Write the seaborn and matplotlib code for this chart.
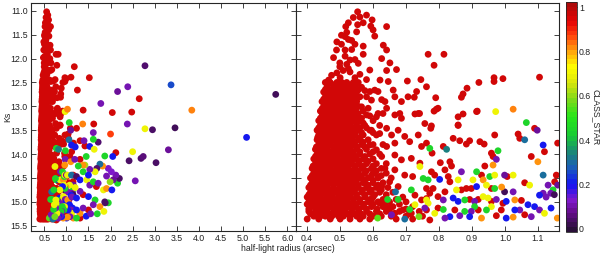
import numpy as np
import pandas as pd
import matplotlib
matplotlib.use("Agg")
import matplotlib.pyplot as plt
from matplotlib.colors import LinearSegmentedColormap, Normalize
from matplotlib.cm import ScalarMappable
import seaborn as sns

# --- data -----------------------------------------------------------------
# isolated red sources (CLASS_STAR ~ 1)
red_radius = [0.553, 0.580, 0.540, 0.560, 0.525, 0.553, 0.570, 0.597, 0.593, 0.641,
              0.517, 0.550, 0.600, 0.504, 0.515, 0.525, 0.605, 0.504, 0.489, 0.515,
              0.535, 0.570, 0.631, 0.641, 0.570, 0.626, 0.651, 0.499, 0.530, 0.545,
              0.499, 0.509, 0.525, 0.474, 0.590, 0.641, 0.671, 0.767, 0.815, 0.785,
              0.704, 0.745, 0.580, 0.621, 0.646, 0.605, 0.575, 0.590, 0.615, 0.661,
              0.666, 0.686, 0.706, 0.725, 0.732, 0.636, 0.595, 0.626, 0.585, 0.641,
              0.681, 0.737, 0.615, 0.565, 0.762, 0.790, 1.105, 0.967, 0.967, 0.994,
              0.921, 0.885, 0.873, 0.868, 0.797, 0.792, 0.785, 0.916, 0.873, 0.858,
              0.777, 0.858, 0.741, 0.520, 0.535, 0.490, 0.545, 0.515, 0.480, 0.555,
              0.520, 0.490, 0.530, 0.545, 0.500, 0.560, 0.465,
              0.580, 0.610, 0.630, 0.666, 0.686, 0.727, 0.757, 0.595, 0.620, 0.641,
              0.656, 0.676, 0.696, 0.711, 0.737, 0.747, 0.666, 0.641, 0.610, 0.590,
              0.626, 0.666, 0.686, 0.716, 0.742, 0.600, 0.636, 0.666, 0.696, 0.720,
              0.615, 0.650, 0.676, 0.626, 0.590, 0.595, 0.620, 0.646, 0.666, 0.690,
              0.716, 0.762, 0.747, 0.727, 0.762,
              0.914, 0.858, 0.775, 0.843, 0.863, 0.883, 0.893, 0.924, 0.937, 0.969,
              1.040, 1.045, 1.090, 1.120, 1.160, 0.762, 0.779, 0.813, 0.959, 0.964,
              0.939, 0.804, 0.833, 0.838, 0.818, 0.777, 0.787, 0.828, 0.833, 0.883,
              0.929, 1.007, 1.060, 1.080, 1.151, 1.156, 0.959, 0.898, 0.868, 0.818,
              0.782, 0.772, 0.762, 0.797, 0.893, 0.919, 0.959, 0.994, 1.050, 1.060,
              0.989, 0.974, 0.919, 0.848, 0.797, 0.772,
              2.65, 2.04, 2.48, 1.38, 1.18, 1.52, 1.25, 1.62, 1.42, 2.12,
              1.31, 1.68, 1.38, 1.50, 1.31, 1.23, 1.31]
red_ks = [11.02, 11.09, 11.14, 11.13, 11.25, 11.29, 11.25, 11.19, 11.32, 11.33,
          11.33, 11.44, 11.40, 11.51, 11.54, 11.60, 11.53, 11.70, 11.82, 11.82,
          11.81, 11.74, 11.72, 11.82, 11.91, 12.00, 12.09, 12.09, 12.03, 12.02,
          12.17, 12.25, 12.21, 12.35, 12.24, 12.25, 12.23, 11.91, 11.91, 12.14,
          12.47, 12.44, 12.44, 12.45, 12.48, 12.66, 12.67, 12.69, 12.69, 12.66,
          12.80, 12.90, 12.80, 12.81, 12.69, 12.90, 12.87, 12.86, 13.04, 13.04,
          13.15, 13.15, 13.15, 13.01, 12.59, 12.82, 12.39, 12.40, 12.48, 12.42,
          12.50, 12.62, 12.74, 12.81, 13.04, 13.06, 13.10, 13.10, 13.16, 13.22,
          13.41, 13.40, 13.15, 11.45, 11.62, 11.65, 11.70, 11.95, 11.98, 12.10,
          12.12, 12.30, 12.28, 12.40, 12.40, 12.33, 12.45,
          13.18, 13.22, 13.15, 13.18, 13.25, 13.16, 13.36, 13.50, 13.57, 13.46,
          13.60, 13.50, 13.63, 13.74, 13.60, 13.84, 13.77, 13.84, 13.91, 13.81,
          14.05, 14.02, 14.12, 14.09, 14.19, 14.26, 14.30, 14.33, 14.44, 14.47,
          14.47, 14.58, 14.68, 14.68, 14.75, 14.96, 15.03, 15.13, 15.24, 15.17,
          15.24, 15.17, 14.96, 14.86, 14.72,
          13.11, 13.39, 13.46, 13.67, 13.72, 13.79, 13.72, 13.74, 13.79, 13.60,
          13.58, 13.67, 13.46, 13.95, 13.77, 13.77, 13.98, 13.84, 13.98, 14.05,
          14.25, 14.18, 14.16, 14.25, 14.33, 14.37, 14.44, 14.47, 14.58, 14.72,
          14.44, 14.47, 14.60, 14.05, 14.58, 14.44, 14.72, 14.72, 14.75, 14.79,
          14.72, 14.82, 14.93, 14.89, 14.95, 14.95, 14.99, 15.03, 14.97, 15.27,
          15.17, 15.29, 15.17, 15.17, 15.13, 15.38,
          12.84, 13.13, 13.12, 13.08, 12.17, 12.40, 12.66, 13.37, 13.83, 13.97,
          14.11, 14.68, 14.85, 15.17, 13.72, 13.46, 15.34]
red_class = 0.97

# dense stellar locus: Ks levels and the radii of the sources at each level
locus_ks = [12.5, 12.6, 12.7, 12.8, 12.9, 13.0, 13.1, 13.2, 13.3, 13.4, 13.5, 13.6,
            13.7, 13.8, 13.9, 14.0, 14.1, 14.2, 14.3, 14.4, 14.5, 14.6, 14.7, 14.8,
            14.9, 15.0, 15.1, 15.2, 15.3, 15.36,
            12.55, 12.65, 12.75, 12.85, 12.95, 13.05, 13.15, 13.25, 13.35, 13.45,
            13.55, 13.65, 13.75, 13.85, 13.95, 14.05, 14.15, 14.25, 14.35, 14.45,
            14.55, 14.65, 14.75, 14.85, 14.95, 15.05, 15.15, 15.25]
locus_radius = [
    [0.455, 0.47, 0.49, 0.505, 0.52, 0.54, 0.555],
    [0.46, 0.48, 0.495, 0.51, 0.53, 0.545, 0.565],
    [0.45, 0.465, 0.485, 0.50, 0.52, 0.535, 0.55],
    [0.455, 0.475, 0.49, 0.51, 0.525, 0.54, 0.56, 0.58],
    [0.445, 0.46, 0.48, 0.50, 0.515, 0.53, 0.55],
    [0.45, 0.47, 0.485, 0.505, 0.52, 0.54, 0.555],
    [0.44, 0.46, 0.475, 0.495, 0.51, 0.525, 0.545, 0.57],
    [0.445, 0.465, 0.48, 0.50, 0.515, 0.535, 0.55, 0.59],
    [0.435, 0.45, 0.47, 0.49, 0.505, 0.525, 0.54, 0.56, 0.60],
    [0.44, 0.455, 0.475, 0.495, 0.51, 0.53, 0.55, 0.575, 0.62],
    [0.43, 0.45, 0.465, 0.485, 0.50, 0.52, 0.535, 0.555, 0.59],
    [0.435, 0.455, 0.47, 0.49, 0.505, 0.525, 0.545, 0.57, 0.61],
    [0.43, 0.445, 0.465, 0.48, 0.50, 0.515, 0.535, 0.555, 0.585],
    [0.435, 0.45, 0.47, 0.49, 0.505, 0.52, 0.54, 0.565, 0.60, 0.63],
    [0.425, 0.445, 0.46, 0.48, 0.495, 0.515, 0.53, 0.55, 0.58],
    [0.43, 0.45, 0.465, 0.485, 0.50, 0.52, 0.54, 0.56, 0.59, 0.62],
    [0.42, 0.44, 0.455, 0.475, 0.49, 0.51, 0.525, 0.545, 0.57, 0.60],
    [0.425, 0.445, 0.46, 0.48, 0.50, 0.515, 0.535, 0.555, 0.58, 0.61, 0.64],
    [0.415, 0.435, 0.45, 0.47, 0.49, 0.505, 0.525, 0.545, 0.565, 0.595, 0.625],
    [0.42, 0.44, 0.46, 0.475, 0.495, 0.51, 0.53, 0.55, 0.575, 0.60, 0.64],
    [0.41, 0.43, 0.45, 0.465, 0.485, 0.50, 0.52, 0.54, 0.56, 0.585, 0.615, 0.655],
    [0.415, 0.435, 0.455, 0.47, 0.49, 0.51, 0.525, 0.545, 0.57, 0.60, 0.63],
    [0.405, 0.425, 0.445, 0.46, 0.48, 0.50, 0.515, 0.535, 0.555, 0.58, 0.61, 0.645],
    [0.41, 0.43, 0.45, 0.47, 0.485, 0.505, 0.52, 0.54, 0.565, 0.59, 0.62, 0.66],
    [0.40, 0.42, 0.44, 0.46, 0.475, 0.495, 0.51, 0.53, 0.55, 0.575, 0.60, 0.69],
    [0.405, 0.425, 0.445, 0.465, 0.48, 0.50, 0.52, 0.54, 0.56, 0.585, 0.615, 0.65, 0.70],
    [0.41, 0.43, 0.45, 0.47, 0.49, 0.505, 0.525, 0.545, 0.57, 0.595, 0.63, 0.66, 0.72],
    [0.405, 0.425, 0.44, 0.46, 0.48, 0.50, 0.515, 0.535, 0.555, 0.58, 0.61, 0.64, 0.68, 0.74],
    [0.42, 0.44, 0.455, 0.475, 0.495, 0.51, 0.53, 0.55, 0.57, 0.60, 0.625, 0.655, 0.70, 0.75],
    [0.40, 0.435, 0.47, 0.50, 0.53, 0.56, 0.59, 0.67, 0.72],
    [0.462, 0.48, 0.498, 0.515, 0.532, 0.548],
    [0.455, 0.472, 0.49, 0.505, 0.522, 0.54, 0.556],
    [0.46, 0.478, 0.495, 0.512, 0.53, 0.545],
    [0.45, 0.468, 0.485, 0.50, 0.518, 0.535, 0.55],
    [0.455, 0.472, 0.49, 0.508, 0.525, 0.54],
    [0.445, 0.462, 0.478, 0.495, 0.512, 0.53, 0.548],
    [0.45, 0.468, 0.485, 0.502, 0.52, 0.538, 0.555],
    [0.44, 0.458, 0.475, 0.492, 0.51, 0.528, 0.545, 0.565],
    [0.445, 0.462, 0.48, 0.498, 0.515, 0.532, 0.55, 0.57],
    [0.435, 0.452, 0.47, 0.488, 0.505, 0.522, 0.54, 0.56, 0.58],
    [0.44, 0.458, 0.475, 0.495, 0.512, 0.528, 0.545, 0.565, 0.60],
    [0.432, 0.45, 0.468, 0.485, 0.502, 0.52, 0.538, 0.56],
    [0.44, 0.455, 0.472, 0.49, 0.508, 0.525, 0.545, 0.57],
    [0.428, 0.445, 0.462, 0.48, 0.498, 0.515, 0.532, 0.552, 0.575],
    [0.435, 0.452, 0.47, 0.488, 0.505, 0.522, 0.54, 0.56, 0.60],
    [0.425, 0.44, 0.458, 0.475, 0.492, 0.51, 0.53, 0.55, 0.575],
    [0.43, 0.448, 0.465, 0.482, 0.50, 0.518, 0.535, 0.558, 0.585],
    [0.418, 0.436, 0.455, 0.472, 0.49, 0.508, 0.525, 0.545, 0.57, 0.60],
    [0.425, 0.442, 0.46, 0.48, 0.498, 0.515, 0.535, 0.555, 0.58, 0.61],
    [0.415, 0.432, 0.45, 0.47, 0.488, 0.505, 0.525, 0.545, 0.565, 0.595, 0.625],
    [0.42, 0.44, 0.458, 0.476, 0.495, 0.512, 0.53, 0.55, 0.575, 0.60],
    [0.41, 0.428, 0.445, 0.462, 0.48, 0.50, 0.518, 0.536, 0.555, 0.585, 0.615],
    [0.415, 0.435, 0.455, 0.472, 0.49, 0.508, 0.525, 0.545, 0.568, 0.595, 0.625],
    [0.405, 0.422, 0.44, 0.458, 0.476, 0.495, 0.512, 0.53, 0.55, 0.575, 0.605, 0.64],
    [0.41, 0.43, 0.45, 0.468, 0.485, 0.503, 0.52, 0.54, 0.56, 0.59, 0.63, 0.67],
    [0.40, 0.418, 0.436, 0.455, 0.472, 0.49, 0.51, 0.53, 0.55, 0.572, 0.60, 0.635, 0.68],
    [0.405, 0.425, 0.442, 0.46, 0.48, 0.497, 0.515, 0.535, 0.558, 0.58, 0.612, 0.65, 0.70],
    [0.41, 0.43, 0.45, 0.468, 0.486, 0.505, 0.522, 0.542, 0.563, 0.59, 0.62, 0.66, 0.71],
]

# sources with intermediate / low CLASS_STAR
mix_radius = [0.972, 1.025, 1.060, 1.065, 1.098, 1.116, 0.772, 0.823, 0.979, 0.974,
              0.964, 0.767, 0.802, 0.868, 0.858, 0.903, 0.914, 0.934, 0.954, 0.969,
              0.999, 1.025, 1.100, 1.116, 1.131, 1.160, 1.146, 1.116, 1.139, 1.150,
              1.075, 0.999, 0.990, 1.025, 0.969, 0.944, 0.914, 0.853, 0.813, 0.843,
              0.858, 0.878, 0.908, 0.934, 0.949, 0.974, 1.004, 1.030, 1.070, 1.090,
              1.105, 1.125, 1.140, 1.105, 1.120, 1.159, 1.080, 1.045, 1.030, 1.004,
              1.025, 0.959, 0.944, 0.929, 0.908, 0.898, 0.893, 0.878, 0.863, 0.833,
              0.818, 0.813, 0.787, 0.767, 0.757,
              0.668, 0.644, 0.676, 0.614, 0.656, 0.696, 0.711, 0.727, 0.739, 0.716,
              0.752, 0.742, 0.762,
              2.78, 3.37, 2.39, 2.16, 5.74, 1.78, 3.84, 1.37, 2.38, 2.78,
              2.95, 3.46, 5.08, 3.31, 2.00, 1.61, 1.72, 1.61, 1.53, 1.63,
              1.87, 2.05, 2.50, 2.42, 2.69, 2.74, 3.03, 2.56, 2.16, 2.20,
              2.12, 2.02, 2.06, 1.99, 1.91, 1.95, 1.82, 1.76, 1.69, 1.65,
              1.53, 1.42, 1.38, 1.19, 1.40, 1.23, 1.31, 1.38, 1.46, 1.50,
              1.53, 1.61, 1.72, 1.84, 1.91, 1.87, 1.76, 1.65, 1.50, 1.31,
              1.23, 1.31, 1.38, 1.61, 1.23, 1.23, 1.95, 1.88, 2.03, 1.45,
              1.55, 1.70, 1.85, 1.20, 1.27, 1.20, 1.45]
mix_ks = [13.11, 13.06, 13.70, 13.34, 13.50, 13.81, 13.88, 13.90, 13.93, 14.11,
          14.23, 14.54, 14.53, 14.37, 14.54, 14.54, 14.37, 14.54, 14.47, 14.44,
          14.44, 14.44, 14.16, 14.44, 14.65, 14.65, 14.75, 14.82, 14.82, 14.85,
          14.65, 14.79, 14.69, 14.79, 14.72, 14.65, 14.68, 14.75, 14.96, 14.92,
          14.99, 14.96, 14.99, 14.89, 14.92, 14.95, 14.99, 14.96, 15.06, 15.10,
          14.86, 14.90, 15.13, 15.17, 15.24, 15.34, 15.31, 15.17, 15.17, 15.34,
          15.32, 15.10, 15.17, 15.34, 15.10, 15.20, 15.31, 15.20, 15.29, 15.31,
          15.34, 15.16, 15.24, 15.03, 15.13,
          14.79, 14.95, 14.95, 15.34, 15.27, 15.36, 15.16, 15.06, 15.31, 14.75,
          14.51, 14.26, 14.96,
          12.15, 12.55, 12.59, 12.69, 12.75, 12.94, 13.08, 13.37, 13.37, 13.47,
          13.49, 13.45, 13.65, 13.91, 13.58, 13.55, 13.75, 13.69, 13.84, 13.90,
          14.04, 14.05, 13.95, 14.14, 14.09, 14.05, 14.18, 14.56, 14.61, 14.51,
          14.44, 14.37, 14.54, 14.58, 14.46, 14.30, 14.25, 14.21, 14.30, 14.37,
          14.32, 14.23, 14.23, 14.11, 13.72, 14.47, 14.54, 14.37, 14.54, 14.44,
          14.65, 14.58, 14.61, 14.75, 14.72, 15.00, 15.10, 14.96, 14.89, 14.78,
          14.92, 15.24, 15.13, 15.06, 15.17, 15.34, 15.02, 15.02, 14.75, 15.30,
          15.25, 15.25, 15.20, 14.70, 14.25, 13.85, 14.05]
mix_class = [0.70, 0.83, 0.30, 0.45, 0.08, 0.20, 0.45, 0.33, 0.45, 0.10,
             0.82, 0.45, 0.20, 0.10, 0.70, 0.70, 0.45, 0.82, 0.45, 0.70,
             0.08, 0.70, 0.82, 0.30, 0.10, 0.08, 0.45, 0.10, 0.10, 0.02,
             0.70, 0.02, 0.82, 0.10, 0.45, 0.70, 0.20, 0.70, 0.10, 0.20,
             0.20, 0.45, 0.10, 0.70, 0.70, 0.10, 0.20, 0.82, 0.20, 0.20,
             0.20, 0.10, 0.20, 0.10, 0.70, 0.82, 0.10, 0.10, 0.20, 0.20,
             0.82, 0.70, 0.45, 0.82, 0.45, 0.10, 0.20, 0.45, 0.10, 0.20,
             0.10, 0.45, 0.70, 0.70, 0.10,
             0.30, 0.45, 0.45, 0.55, 0.10, 0.30, 0.45, 0.70, 0.58, 0.45,
             0.45, 0.70, 0.70,
             0.04, 0.25, 0.10, 0.08, 0.02, 0.10, 0.83, 0.83, 0.10, 0.70,
             0.03, 0.02, 0.20, 0.08, 0.88, 0.10, 0.04, 0.45, 0.20, 0.70,
             0.45, 0.20, 0.70, 0.03, 0.04, 0.05, 0.03, 0.10, 0.45, 0.03,
             0.10, 0.12, 0.08, 0.60, 0.10, 0.12, 0.82, 0.30, 0.04, 0.70,
             0.10, 0.62, 0.82, 0.10, 0.10, 0.03, 0.20, 0.45, 0.70, 0.20,
             0.10, 0.45, 0.10, 0.70, 0.82, 0.03, 0.82, 0.45, 0.20, 0.10,
             0.20, 0.82, 0.10, 0.10, 0.20, 0.45, 0.45, 0.03, 0.20, 0.20,
             0.10, 0.45, 0.70, 0.70, 0.45, 0.20, 0.45]

y_ticks = [11.0, 11.5, 12.0, 12.5, 13.0, 13.5, 14.0, 14.5, 15.0, 15.5]
x_ticks_left = [0.5, 1.0, 1.5, 2.0, 2.5, 3.0, 3.5, 4.0, 4.5, 5.0, 5.5, 6.0]
x_ticks_right = [0.4, 0.5, 0.6, 0.7, 0.8, 0.9, 1.0, 1.1]
cbar_ticks = [0, 0.2, 0.4, 0.6, 0.8, 1.0]
cbar_labels = ["0", "0.2", "0.4", "0.6", "0.8", "1"]

# --- table ------------------------------------------------------------------
locus_r = [r for row in locus_radius for r in row]
locus_k = [k for k, row in zip(locus_ks, locus_radius) for _ in row]
df = pd.DataFrame({
    "radius": red_radius + locus_r + mix_radius,
    "ks": red_ks + locus_k + mix_ks,
    "cls": [red_class] * (len(red_radius) + len(locus_r)) + mix_class,
})

# rainbow-like table, dark purple -> blue -> green -> yellow -> red
cmap = LinearSegmentedColormap.from_list("class_star", [
    (0.00, (0.16, 0.06, 0.22)), (0.08, (0.40, 0.05, 0.55)),
    (0.13, (0.50, 0.10, 0.80)), (0.20, (0.08, 0.08, 0.95)),
    (0.27, (0.10, 0.35, 0.75)), (0.33, (0.10, 0.50, 0.50)),
    (0.42, (0.10, 0.80, 0.20)), (0.50, (0.15, 0.90, 0.10)),
    (0.58, (0.50, 0.85, 0.10)), (0.65, (0.85, 0.90, 0.05)),
    (0.72, (1.00, 1.00, 0.00)), (0.80, (1.00, 0.60, 0.05)),
    (0.86, (1.00, 0.25, 0.05)), (0.92, (0.90, 0.02, 0.02)),
    (1.00, (0.68, 0.04, 0.04))])
norm = Normalize(vmin=-0.015, vmax=1.025)

sns.set_style("ticks")
plt.rcParams["font.family"] = ["Liberation Sans", "DejaVu Sans"]
fs = 6.3

fig = plt.figure(figsize=(6, 2.58), dpi=100)
ax1 = fig.add_axes([0.0517, 0.1047, 0.4417, 0.8848])
ax2 = fig.add_axes([0.4933, 0.1047, 0.4383, 0.8848])
cax = fig.add_axes([0.943, 0.1008, 0.0183, 0.892])

for ax in (ax1, ax2):
    sns.scatterplot(data=df, x="radius", y="ks", hue="cls", palette=cmap,
                    hue_norm=norm, s=24, edgecolor="none", linewidth=0,
                    legend=False, ax=ax)
    ax.set_ylim(15.61, 10.83)
    ax.set_yticks(y_ticks)
    ax.set_xlabel("")
    ax.set_ylabel("")
    ax.tick_params(direction="in", top=True, right=True, length=3.5, width=0.6,
                   labelsize=fs, pad=2.5, colors="#222222")
    for sp in ax.spines.values():
        sp.set_linewidth(0.8)

ax1.set_xlim(0.2, 6.2)
ax1.set_xticks(x_ticks_left)
ax1.set_xticklabels([f"{v:.1f}" for v in x_ticks_left])
ax1.set_yticklabels([f"{v:.1f}" for v in y_ticks])

ax2.set_xlim(0.366, 1.164)
ax2.set_xticks(x_ticks_right)
ax2.set_xticklabels([f"{v:.1f}" for v in x_ticks_right])
ax2.tick_params(labelleft=False)

fig.text(0.48, 0.035, "half-light radius (arcsec)", ha="center", va="center",
         fontsize=fs, color="#222222")
fig.text(0.013, 0.547, "Ks", rotation=90, ha="center", va="center",
         fontsize=fs, color="#222222")

sm = ScalarMappable(norm=norm, cmap=cmap.resampled(48))
cb = fig.colorbar(sm, cax=cax)
cb.set_ticks(cbar_ticks)
cb.set_ticklabels(cbar_labels)
cb.outline.set_linewidth(0.6)
cax.tick_params(direction="in", length=3, width=0.6, labelsize=fs, pad=1.5,
                colors="#222222")
fig.text(0.993, 0.547, "CLASS_STAR", rotation=270, ha="center", va="center",
         fontsize=fs, color="#222222")

fig.savefig("out.png", dpi=100)
